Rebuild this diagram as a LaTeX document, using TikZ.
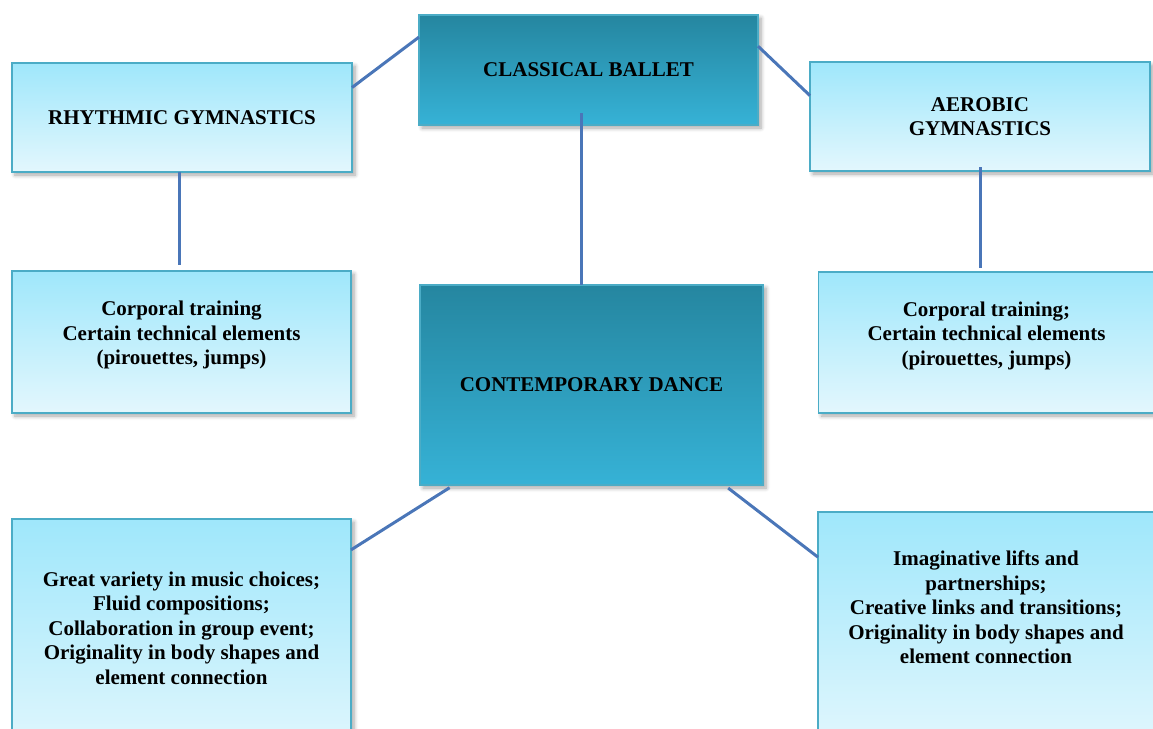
\documentclass[tikz,border=0pt]{standalone}
\usepackage{fontspec}
\setmainfont{Liberation Serif}
\usetikzlibrary{shadows.blur}

\definecolor{boxedge}{HTML}{4BACC6}
\definecolor{lighttop}{HTML}{9FE7FB}
\definecolor{lightbot}{HTML}{E3F7FD}
\definecolor{darktop}{HTML}{2586A0}
\definecolor{darkmid}{HTML}{2EA0C1}
\definecolor{darkbot}{HTML}{36B2D6}
\definecolor{linkblue}{HTML}{4A76B8}

\tikzset{
  basebox/.style={draw=boxedge, line width=0.8pt, outer sep=0pt, align=center,
    font=\fontsize{10.5}{12.25}\selectfont\bfseries,
    blur shadow={shadow blur steps=6, shadow blur radius=2pt, shadow xshift=1.5pt,
      shadow yshift=-1.5pt, shadow opacity=35}},
  lightbox/.style={basebox, top color=lighttop, bottom color=lightbot},
  darkbox/.style={basebox, top color=darktop, middle color=darkmid, bottom color=darkbot},
  link/.style={draw=linkblue, line width=1.5pt}
}

\begin{document}
\begin{tikzpicture}[x=0.5pt, y=-0.5pt]
  \path[use as bounding box, clip] (0,0) rectangle (1153,729);

  \node[darkbox, minimum width=169.5pt, minimum height=55pt] (ballet) at (588.5,70) {CLASSICAL BALLET};
  \node[lightbox, minimum width=170pt, minimum height=54.5pt] (rhythm) at (182,117.5) {RHYTHMIC GYMNASTICS};
  \node[lightbox, minimum width=170pt, minimum height=54.5pt] (aerobic) at (980,116.5) {AEROBIC\\GYMNASTICS};
  \node[lightbox, minimum width=169.5pt, minimum height=71pt] (lmid) at (181.5,342)
    {Corporal training\\Certain technical elements\\(pirouettes, jumps)\\[-3pt]\mbox{}};
  \node[darkbox, minimum width=171.5pt, minimum height=100pt] (contemp) at (591.5,385) {CONTEMPORARY DANCE};
  \node[lightbox, minimum width=168pt, minimum height=70.5pt] (rmid) at (986.5,342.5)
    {Corporal training;\\Certain technical elements\\(pirouettes, jumps)\\[-3pt]\mbox{}};
  \node[lightbox, minimum width=169.5pt, minimum height=121pt] (lbot) at (181.5,640)
    {Great variety in music choices;\\Fluid compositions;\\Collaboration in group event;\\Originality in body shapes and\\element connection\\ \mbox{}};
  \node[lightbox, minimum width=168pt, minimum height=120pt] (rbot) at (986,632)
    {Imaginative lifts and\\partnerships;\\Creative links and transitions;\\Originality in body shapes and\\element connection\\ \mbox{}\\ \mbox{}};

  \draw[link] (rhythm.10) -- (ballet.169);
  \draw[link] (ballet.8) -- (aerobic.173);
  \draw[link] ([xshift=-3.75pt,yshift=6pt]ballet.south) -- ([xshift=-3.75pt]ballet.south |- contemp.north);
  \draw[link, shorten >=3pt] ([xshift=-1.5pt]rhythm.south) -- ([xshift=-1.5pt]rhythm.south |- lmid.north);
  \draw[link, shorten >=2pt] ([yshift=2pt]aerobic.south) -- (aerobic.south |- rmid.north);
  \draw[link, shorten <=2.5pt] (contemp.216) -- (lbot.28);
  \draw[link, shorten <=2.5pt] (contemp.323) -- (rbot.156);
\end{tikzpicture}
\end{document}
